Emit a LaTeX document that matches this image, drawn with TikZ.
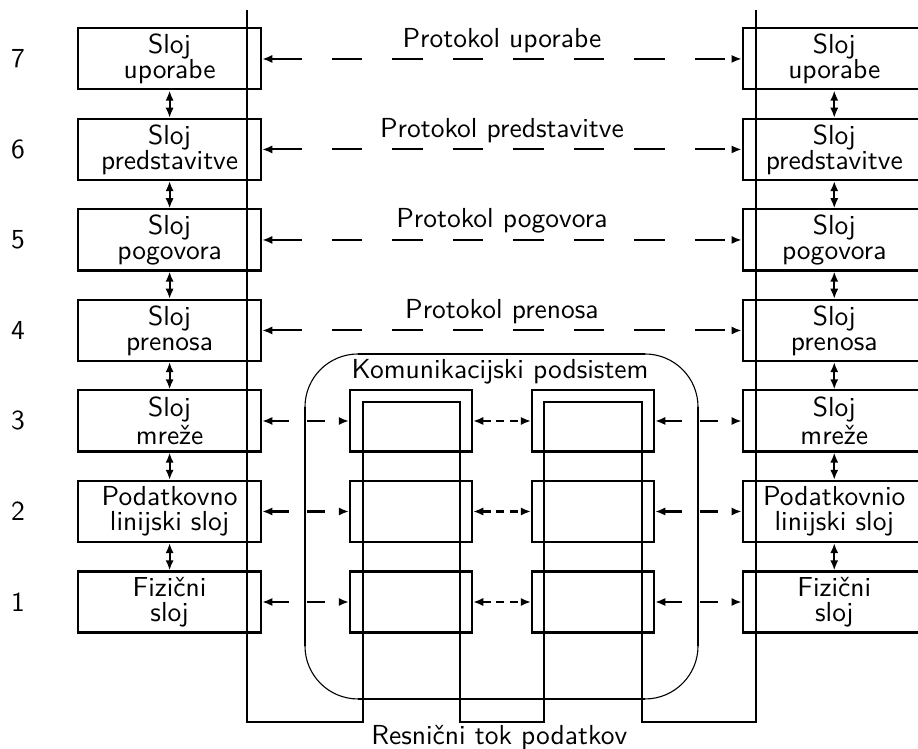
\documentclass[tikz,border=0pt]{standalone}
\usepackage{fontspec}
\usetikzlibrary{arrows.meta,calc}
\tikzset{
    >={Latex[length=1.3mm,width=1.05mm]},
    layer/.style={draw, line width=0.75pt, minimum width=2.34cm,
                  minimum height=0.78cm, inner sep=1pt, align=center,
                  font=\sffamily\fontsize{10}{9}\selectfont},
    relay/.style={draw, line width=0.75pt, minimum width=1.56cm,
                  minimum height=0.78cm, inner sep=0pt},
    row number/.style={font=\sffamily},
    label text/.style={font=\sffamily},
    stack arrow/.style={line width=0.75pt, <->},
    protocol/.style={line width=0.75pt, <->, dash pattern=on 11pt off 11pt},
    hop/.style={line width=0.75pt, <->, dash pattern=on 6.5pt off 6.5pt},
    short hop/.style={line width=0.75pt, <->, dash pattern=on 3pt off 2pt},
    data flow/.style={line width=0.75pt},
}

\begin{document}
\begin{tikzpicture}[font=\sffamily]

\useasboundingbox (0,0) rectangle (11.73,9.57);
\clip (0,0) rectangle (11.73,9.57);

% Both end systems: the seven layers, left and right.
\foreach \n/\lt/\rt in {7/Sloj\\uporabe/Sloj\\uporabe,
                        6/Sloj\\predstavitve/Sloj\\predstavitve,
                        5/Sloj\\pogovora/Sloj\\pogovora,
                        4/Sloj\\prenosa/Sloj\\prenosa,
                        3/Sloj\\mreže/Sloj\\mreže,
                        2/Podatkovno\\linijski sloj/Podatkovnio\\linijski sloj,
                        1/Fizični\\sloj/Fizični\\sloj} {
    \node[row number] (N\n) at (0.23,{1.878+(\n-1)*1.1565}) {\n};
    \node[layer] (L\n) at (2.167,{1.878+(\n-1)*1.1565}) {\lt};
    \node[layer] (R\n) at (10.66,{1.878+(\n-1)*1.1565}) {\rt};
}
\foreach \a/\b in {7/6,6/5,5/4,4/3,3/2,2/1} {
    \draw[stack arrow] (L\a.south) -- (L\b.north);
    \draw[stack arrow] (R\a.south) -- (R\b.north);
}

% Peer protocols of the upper four layers.
\draw[protocol] (L7.east) -- (R7.west)
    node[midway, above, inner sep=2pt, label text] (P7) {Protokol uporabe};
\draw[protocol] (L6.east) -- (R6.west)
    node[midway, above, inner sep=2pt, label text] (P6) {Protokol predstavitve};
\draw[protocol] (L5.east) -- (R5.west)
    node[midway, above, inner sep=2pt, label text] (P5) {Protokol pogovora};
\draw[protocol] (L4.east) -- (R4.west)
    node[midway, above, inner sep=2pt, label text] (P4) {Protokol prenosa};

% Communication subsystem with its two relay nodes.
\draw[line width=0.4pt, rounded corners=0.677cm] (3.897,0.639) rectangle (8.919,5.047);
\draw[line width=0.75pt] (4.574,5.047) -- (8.242,5.047);
\draw[line width=0.75pt] (4.574,0.639) -- (8.242,0.639);
\draw[line width=0.75pt] (3.897,1.316) -- (3.897,4.370);
\draw[line width=0.75pt] (8.919,1.316) -- (8.919,4.370);
\node[label text] (sub) at (6.39,4.82) {Komunikacijski podsistem};

\foreach \n in {3,2,1} {
    \node[relay] (A\n) at (5.252,{1.878+(\n-1)*1.1565}) {};
    \node[relay] (B\n) at (7.578,{1.878+(\n-1)*1.1565}) {};
    \draw[hop] (L\n.east) -- (A\n.west);
    \draw[short hop] (A\n.east) -- (B\n.west);
    \draw[hop] (B\n.east) -- (R\n.west);
}

% Real path of the data, down and up through each relay.
\draw[data flow] (3.156,9.443) -- (3.156,0.345) -- (4.638,0.345)
    -- (4.638,4.434) -- (5.878,4.434) -- (5.878,0.345) -- (6.951,0.345)
    -- (6.951,4.434) -- (8.203,4.434) -- (8.203,0.345) -- (9.66,0.345)
    -- (9.66,9.443);
\node[label text] (flow) at (6.38,0.15) {Resnični tok podatkov};

\end{tikzpicture}
\end{document}
